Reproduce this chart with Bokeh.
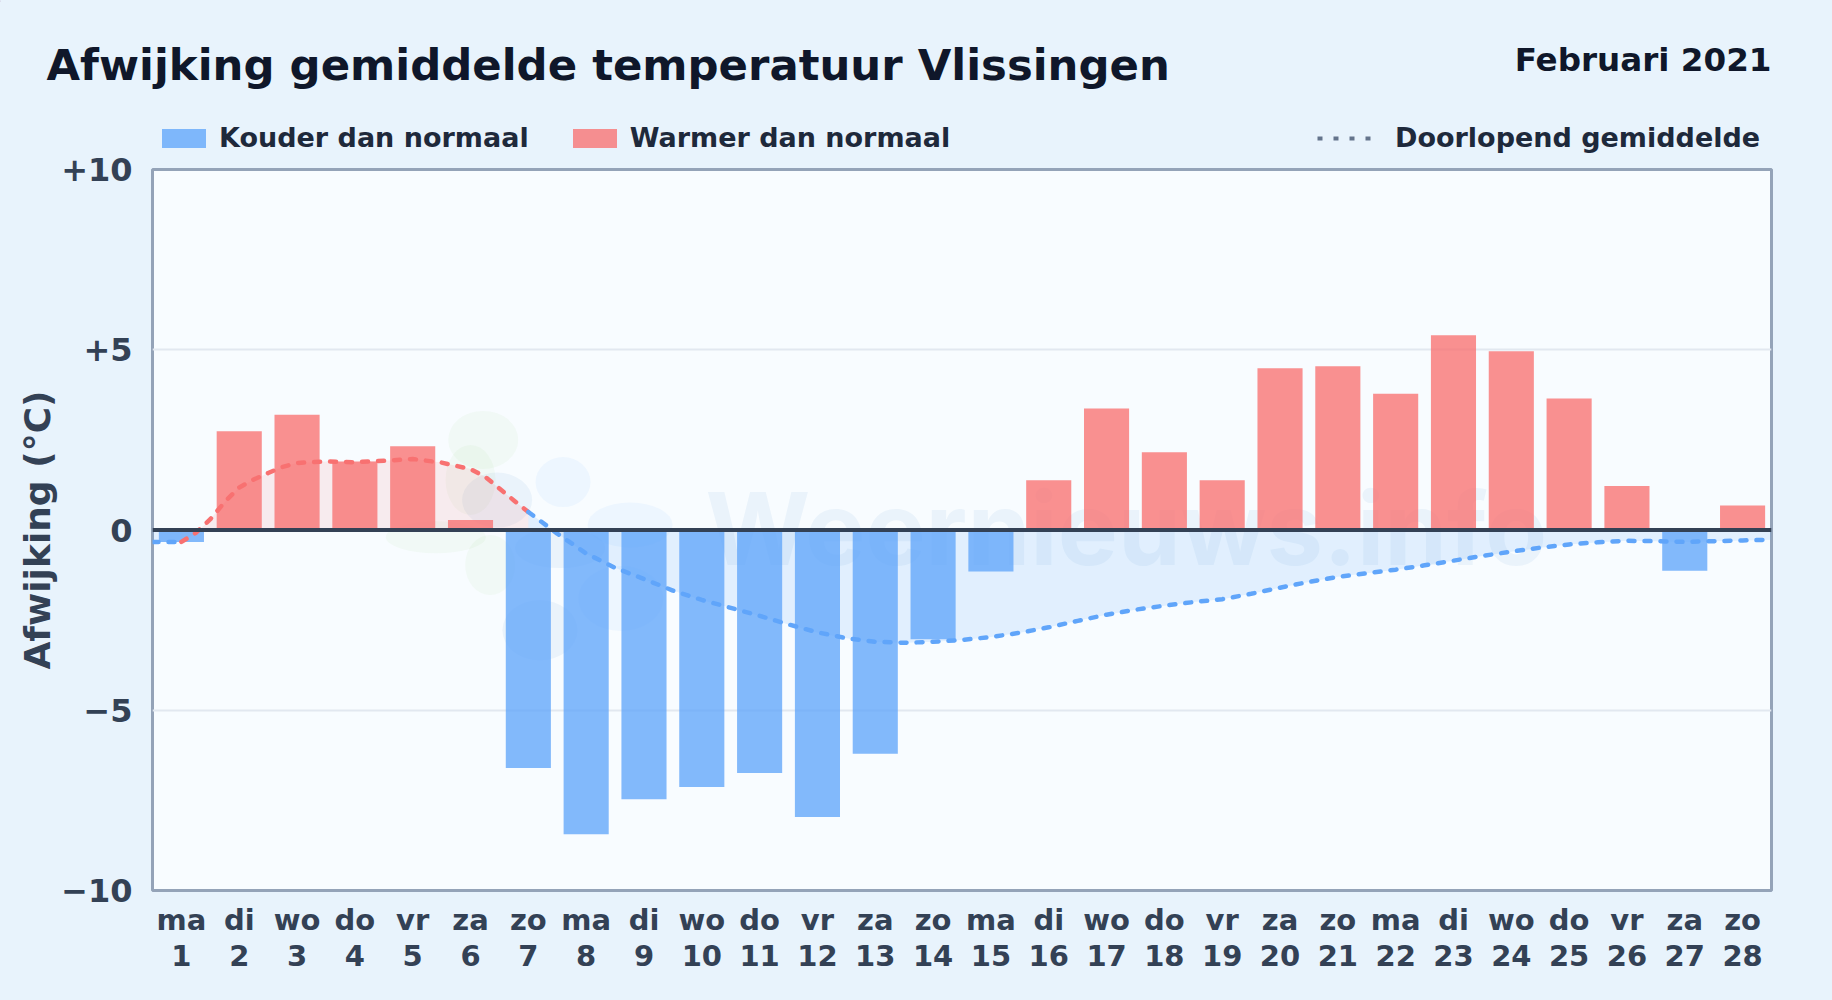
from bokeh.plotting import figure
from bokeh.layouts import column
from bokeh.embed import file_html
from bokeh.resources import INLINE
from bokeh.models import Label, Legend, LegendItem, Span, FixedTicker, Range1d, LinearAxis

TITLE = "Afwijking gemiddelde temperatuur Vlissingen"
PERIOD = "Februari 2021"
WATERMARK = "Weernieuws.info"
Y_LABEL = "Afwijking (°C)"
LEGEND_COLD = "Kouder dan normaal"
LEGEND_WARM = "Warmer dan normaal"
LEGEND_MEAN = "Doorlopend gemiddelde"
WEEKDAYS = ["ma", "di", "wo", "do", "vr", "za", "zo"] * 4
DAYS = list(range(1, 29))
ANOMALY = [-0.33, 2.74, 3.20, 1.90, 2.32, 0.28, -6.60, -8.44, -7.47, -7.13,
           -6.74, -7.96, -6.21, -3.03, -1.15, 1.38, 3.37, 2.16, 1.38, 4.49,
           4.54, 3.78, 5.40, 4.96, 3.65, 1.22, -1.13, 0.68]
# running mean, read at half-day steps
MEAN_X_RED = [1.0, 1.25, 1.5, 1.75, 2.0, 2.25, 2.5, 2.75, 3.0, 3.5, 4.0, 4.5, 5.0, 5.5, 6.0, 6.25, 6.5, 6.75, 7.0]
MEAN_Y_RED = [-0.33, -0.08, 0.30, 0.78, 1.18, 1.40, 1.58, 1.75, 1.86, 1.90, 1.88, 1.92, 1.97, 1.87, 1.69, 1.48, 1.15, 0.82, 0.50]
MEAN_X_BLUE = [0.5, 1.0]
MEAN_Y_BLUE = [-0.33, -0.33]
MEAN_X_BLUE2 = [7.0, 7.5, 8.0, 8.5, 9.0, 9.5, 10.0, 10.5, 11.0, 11.5, 12.0, 12.5, 13.0, 13.5, 14.0,
                14.5, 15.0, 15.5, 16.0, 16.5, 17.0, 17.5, 18.0, 18.5, 19.0, 19.5, 20.0, 20.5, 21.0,
                21.5, 22.0, 22.5, 23.0, 23.5, 24.0, 24.5, 25.0, 25.5, 26.0, 26.5, 27.0, 27.5, 28.0, 28.5]
MEAN_Y_BLUE2 = [0.50, -0.10, -0.65, -1.05, -1.36, -1.68, -1.94, -2.16, -2.38, -2.62, -2.84, -3.00, -3.10, -3.13, -3.10,
                -3.05, -2.97, -2.85, -2.70, -2.52, -2.35, -2.21, -2.10, -2.00, -1.92, -1.77, -1.60, -1.44, -1.30,
                -1.20, -1.10, -0.98, -0.85, -0.72, -0.60, -0.49, -0.40, -0.34, -0.30, -0.31, -0.33, -0.31, -0.29, -0.27]
Y_TICKS = {10: "+10", 5: "+5", 0: "0", -5: "\u22125", -10: "\u221210"}

FONT = "DejaVu Sans"
PAGE = "#e8f3fc"
BLUE, RED = "#60a5fa", "#f87171"
BAR_ALPHA = 0.78

# ---- main chart -------------------------------------------------------
p = figure(width=1832, height=860, output_backend="svg", toolbar_location=None,
           x_range=Range1d(0.5, 28.5), y_range=Range1d(-10, 10),
           min_border_left=152, min_border_right=61, min_border_top=29, min_border_bottom=110,
           background_fill_color="#f8fcff", border_fill_alpha=0)
p.outline_line_color = "#94a3b8"
p.outline_line_width = 3
p.outline_line_alpha = 1

# weekday row and day-number row are two stacked axes, so their spacing can be set
day_axis = LinearAxis()
p.add_layout(day_axis, "below")
p.xaxis[0].major_label_overrides = {d: w for d, w in zip(DAYS, WEEKDAYS)}
p.xaxis[0].major_label_standoff = 12
p.xaxis[1].major_label_overrides = {d: str(d) for d in DAYS}
p.xaxis[1].major_label_standoff = 5
p.xaxis.ticker = FixedTicker(ticks=DAYS)
p.yaxis.ticker = FixedTicker(ticks=list(Y_TICKS))
p.yaxis.major_label_overrides = Y_TICKS
for ax, size in ((p.xaxis, "29px"), (p.yaxis, "32px")):
    ax.axis_line_color = None
    ax.major_tick_line_color = None
    ax.minor_tick_line_color = None
    ax.major_tick_out = 0
    ax.major_label_text_font = FONT
    ax.major_label_text_font_style = "bold"
    ax.major_label_text_font_size = size
    ax.major_label_text_color = "#334155"
p.yaxis.major_label_standoff = 20
p.yaxis.axis_label = Y_LABEL
p.yaxis.axis_label_standoff = 0
p.yaxis.axis_label_text_font = FONT
p.yaxis.axis_label_text_font_style = "bold"
p.yaxis.axis_label_text_font_size = "36px"
p.yaxis.axis_label_text_color = "#334155"
p.xgrid.visible = False
p.ygrid.grid_line_color = "#e2e8f0"
p.ygrid.grid_line_width = 2
p.ygrid.ticker = FixedTicker(ticks=[-5, 5])

# watermark
p.ellipse(x=[6.22, 6.0, 5.4, 6.34], y=[2.5, 1.39, -0.2, -0.97], width=[70, 50, 100, 50], height=[58, 70, 32, 60],
          width_units="screen", height_units="screen", line_color=None, fill_color="#8fd16a", fill_alpha=0.06)
p.ellipse(x=[7.6, 8.76, 8.6], y=[1.33, 0.14, -1.9], width=[55, 85, 85], height=[50, 45, 65],
          width_units="screen", height_units="screen", line_color=None, fill_color=BLUE, fill_alpha=0.07)
p.ellipse(x=[6.46, 7.55, 7.2], y=[0.83, -0.5, -2.78], width=[70, 90, 75], height=[55, 40, 60],
          width_units="screen", height_units="screen", line_color=None, fill_color="#3b82c4", fill_alpha=0.07)
p.add_layout(Label(x=553, y=363, x_units="screen", y_units="screen", text=WATERMARK, level="underlay",
                   text_font="Inter", text_font_style="bold", text_font_size="101px", text_baseline="alphabetic",
                   text_color="#3b82c4", text_alpha=0.07))

# fills
p.varea(MEAN_X_RED, MEAN_Y_RED, [0] * len(MEAN_X_RED), fill_color=RED, fill_alpha=0.12)
p.varea(MEAN_X_BLUE, MEAN_Y_BLUE, [0] * len(MEAN_X_BLUE), fill_color=BLUE, fill_alpha=0.15)
p.varea(MEAN_X_BLUE2, MEAN_Y_BLUE2, [0] * len(MEAN_X_BLUE2), fill_color=BLUE, fill_alpha=0.15)

# bars
cold = [(d, v) for d, v in zip(DAYS, ANOMALY) if v < 0]
warm = [(d, v) for d, v in zip(DAYS, ANOMALY) if v >= 0]
p.vbar(x=[c[0] for c in cold], top=[c[1] for c in cold], bottom=0, width=0.78,
       fill_color=BLUE, fill_alpha=BAR_ALPHA, line_color=None)
p.vbar(x=[c[0] for c in warm], top=[c[1] for c in warm], bottom=0, width=0.78,
       fill_color=RED, fill_alpha=BAR_ALPHA, line_color=None)

p.add_layout(Span(location=0, dimension="width", line_color="#334155", line_width=4))

# running mean
line_kw = dict(line_width=4.5, line_dash="6 10", line_cap="round", line_join="round")
p.line(MEAN_X_BLUE, MEAN_Y_BLUE, line_color=BLUE, **line_kw)
p.line(MEAN_X_RED, MEAN_Y_RED, line_color=RED, **line_kw)
p.line(MEAN_X_BLUE2, MEAN_Y_BLUE2, line_color=BLUE, **line_kw)

# ---- heading band: its range is simply the pixels of the band ----------
h = figure(width=1832, height=156, output_backend="svg", toolbar_location=None,
           x_range=Range1d(0, 1832), y_range=Range1d(156, 0),
           min_border_left=0, min_border_right=0, min_border_top=0, min_border_bottom=0,
           background_fill_color=PAGE, border_fill_color=PAGE)
h.axis.visible = False
h.grid.visible = False
h.outline_line_color = None

# legend keys: drawn outside the band's range, only their key swatch shows
k_cold = h.vbar(x=[-100], top=[1], bottom=[0], width=1, fill_color=BLUE, fill_alpha=BAR_ALPHA, line_color=None)
k_warm = h.vbar(x=[-100], top=[1], bottom=[0], width=1, fill_color=RED, fill_alpha=BAR_ALPHA, line_color=None)
k_mean = h.line([-100, -99], [0, 0], line_color="#64748b", line_width=4, line_dash="5 11")

legend_kw = dict(orientation="horizontal", background_fill_alpha=0, border_line_color=None, margin=0, padding=0,
                 label_text_font=FONT, label_text_font_style="bold", label_text_font_size="27px",
                 label_text_color="#1e293b", label_height=24, glyph_height=24)
h.add_layout(Legend(items=[LegendItem(label=LEGEND_COLD, renderers=[k_cold]),
                           LegendItem(label=LEGEND_WARM, renderers=[k_warm])],
                    location=(156, 3), glyph_width=55, label_standoff=8, spacing=38, **legend_kw))
h.add_layout(Legend(items=[LegendItem(label=LEGEND_MEAN, renderers=[k_mean])],
                    location=(1317, 3), glyph_width=56, label_standoff=22, **legend_kw))
h.add_layout(Label(x=46, y=64, text=TITLE, text_font=FONT, text_font_style="bold", text_font_size="43.4px",
                   text_baseline="alphabetic", text_color="#0f172a"))
h.add_layout(Label(x=1771, y=59.5, text=PERIOD, text_align="right", text_font=FONT, text_font_style="bold",
                   text_font_size="32.6px", text_baseline="alphabetic", text_color="#0f172a"))

# the chart overlaps the band a little: the "+10" label and the legend texts share their row of pixels
page = column(column(h), column(p, margin=(-16, 0, 0, 0)), spacing=0, styles={"background-color": PAGE})
open("out.html", "w").write(file_html(page, INLINE))
